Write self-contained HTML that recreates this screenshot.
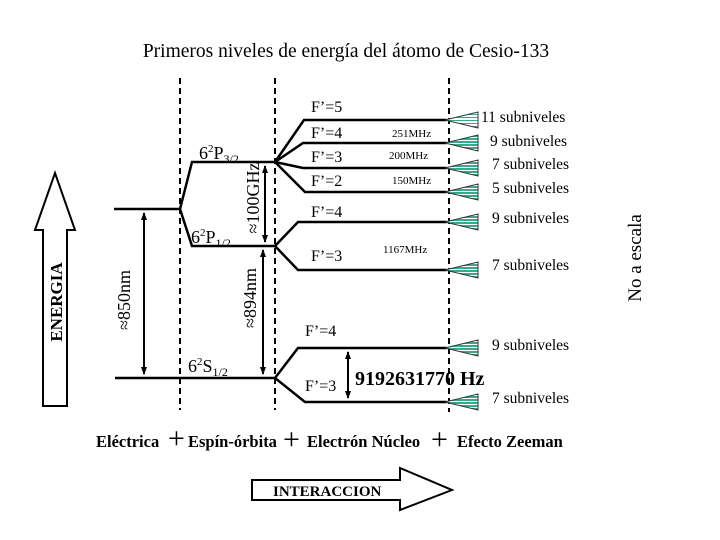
<!DOCTYPE html>
<html><head><meta charset="utf-8"><style>
html,body{margin:0;padding:0;background:#fff;}
svg{display:block;font-family:"Liberation Serif",serif;}
</style></head><body>
<svg width="720" height="540" viewBox="0 0 720 540" xmlns="http://www.w3.org/2000/svg">
<defs>
<pattern id="st" width="4" height="3" patternUnits="userSpaceOnUse"><rect width="4" height="3" fill="#fff"/><rect width="4" height="2" fill="#3aa88c"/></pattern>
<pattern id="st2" width="4" height="3" patternUnits="userSpaceOnUse"><rect width="4" height="3" fill="#fff"/><rect width="4" height="1" fill="#3aa88c"/></pattern>
<marker id="a" markerWidth="8" markerHeight="8" refX="7" refY="4" orient="auto-start-reverse" markerUnits="userSpaceOnUse"><path d="M0,1 L8,4 L0,7 Z" fill="#000"/></marker>
</defs>
<text x="346" y="57" font-size="19.5" text-anchor="middle">Primeros niveles de energía del átomo de Cesio-133</text>
<g stroke="#000" stroke-width="2" stroke-dasharray="6,4">
<line x1="180" y1="78" x2="180" y2="410"/><line x1="275" y1="78" x2="275" y2="410"/><line x1="449" y1="78" x2="449" y2="412"/>
</g>
<g stroke="#000" stroke-width="2.5" fill="none">
<line x1="114" y1="209" x2="180" y2="209"/>
<polyline points="180,209 192,162 275,162"/>
<polyline points="180,209 192,246 275,246"/>
<line x1="115" y1="378" x2="275" y2="378"/>
<polyline points="447,120 304,120 275,162"/>
<polyline points="447,143 303,143 275,162"/>
<polyline points="447,168 303,168 275,162"/>
<polyline points="447,192 305,192 275,162"/>
<polyline points="447,222 298,222 275,246"/>
<polyline points="447,270 298,270 275,246"/>
<polyline points="447,348 298,348 275,378"/>
<polyline points="447,402 305,402 275,378"/>
</g>
<g stroke="#000" stroke-width="2">
<line x1="144" y1="213" x2="144" y2="374" marker-start="url(#a)" marker-end="url(#a)"/>
<line x1="263" y1="250" x2="263" y2="374" marker-start="url(#a)" marker-end="url(#a)"/>
<line x1="265" y1="166" x2="265" y2="242" marker-start="url(#a)" marker-end="url(#a)"/>
<line x1="348" y1="352" x2="348" y2="398" marker-start="url(#a)" marker-end="url(#a)"/>
</g>
<g stroke="#333" stroke-width="1">
<polygon points="445,120 478,112 478,128" fill="url(#st2)"/>
<polygon points="445,143 478,135 478,151" fill="url(#st)"/>
<polygon points="445,168 478,160 478,176" fill="url(#st)"/>
<polygon points="445,192 478,184 478,200" fill="url(#st)"/>
<polygon points="445,222 478,214 478,230" fill="url(#st)"/>
<polygon points="445,270 478,262 478,278" fill="url(#st)"/>
<polygon points="445,348 478,340 478,356" fill="url(#st)"/>
<polygon points="445,402 478,394 478,410" fill="url(#st)"/>
</g>
<g font-size="15.5">
<text x="481" y="122">11 subniveles</text>
<text x="490" y="146">9 subniveles</text>
<text x="492" y="169">7 subniveles</text>
<text x="492" y="193">5 subniveles</text>
<text x="492" y="223">9 subniveles</text>
<text x="492" y="270">7 subniveles</text>
<text x="492" y="350">9 subniveles</text>
<text x="492" y="403">7 subniveles</text>
</g>
<g font-size="16">
<text x="311" y="112">F’=5</text>
<text x="311" y="138">F’=4</text>
<text x="311" y="162">F’=3</text>
<text x="311" y="186">F’=2</text>
<text x="311" y="217">F’=4</text>
<text x="311" y="261">F’=3</text>
<text x="305" y="336">F’=4</text>
<text x="305" y="391">F’=3</text>
</g>
<g font-size="11">
<text x="392" y="137">251MHz</text>
<text x="389" y="159">200MHz</text>
<text x="392" y="184">150MHz</text>
<text x="383" y="253">1167MHz</text>
</g>
<text x="199" y="159" font-size="18">6<tspan font-size="11" dy="-7">2</tspan><tspan dy="7">P</tspan><tspan font-size="12" dy="4">3/2</tspan></text>
<text x="191" y="243" font-size="18">6<tspan font-size="11" dy="-7">2</tspan><tspan dy="7">P</tspan><tspan font-size="12" dy="4">1/2</tspan></text>
<text x="188" y="372" font-size="18">6<tspan font-size="11" dy="-7">2</tspan><tspan dy="7">S</tspan><tspan font-size="12" dy="4">1/2</tspan></text>
<text transform="translate(259,198) rotate(-90)" font-size="18" text-anchor="middle">≈100GHz</text>
<text transform="translate(256,298) rotate(-90)" font-size="18" text-anchor="middle">≈894nm</text>
<text transform="translate(130,300) rotate(-90)" font-size="18" text-anchor="middle">≈850nm</text>
<text transform="translate(641,258) rotate(-90)" font-size="19" text-anchor="middle">No a escala</text>
<polygon points="43,406 43,230 35,230 55,173 75,230 67,230 67,406" fill="#fff" stroke="#000" stroke-width="2"/>
<text transform="translate(62,302) rotate(-90)" font-size="17" font-weight="bold" text-anchor="middle">ENERGIA</text>
<text x="355" y="385" font-size="20" font-weight="bold">9192631770 Hz</text>
<g font-size="16.5" font-weight="bold">
<text x="96" y="447">Eléctrica</text>
<text x="188" y="447">Espín-órbita</text>
<text x="307" y="447">Electrón Núcleo</text>
<text x="457" y="447">Efecto Zeeman</text>
</g>
<g font-size="30">
<text x="168" y="448">+</text><text x="283" y="449">+</text><text x="431" y="449">+</text>
</g>
<polygon points="252,480 400,480 400,468 452,490 400,510 400,500 252,500" fill="#fff" stroke="#000" stroke-width="2"/>
<text x="273" y="496" font-size="15" font-weight="bold">INTERACCION</text>
</svg>
</body></html>
